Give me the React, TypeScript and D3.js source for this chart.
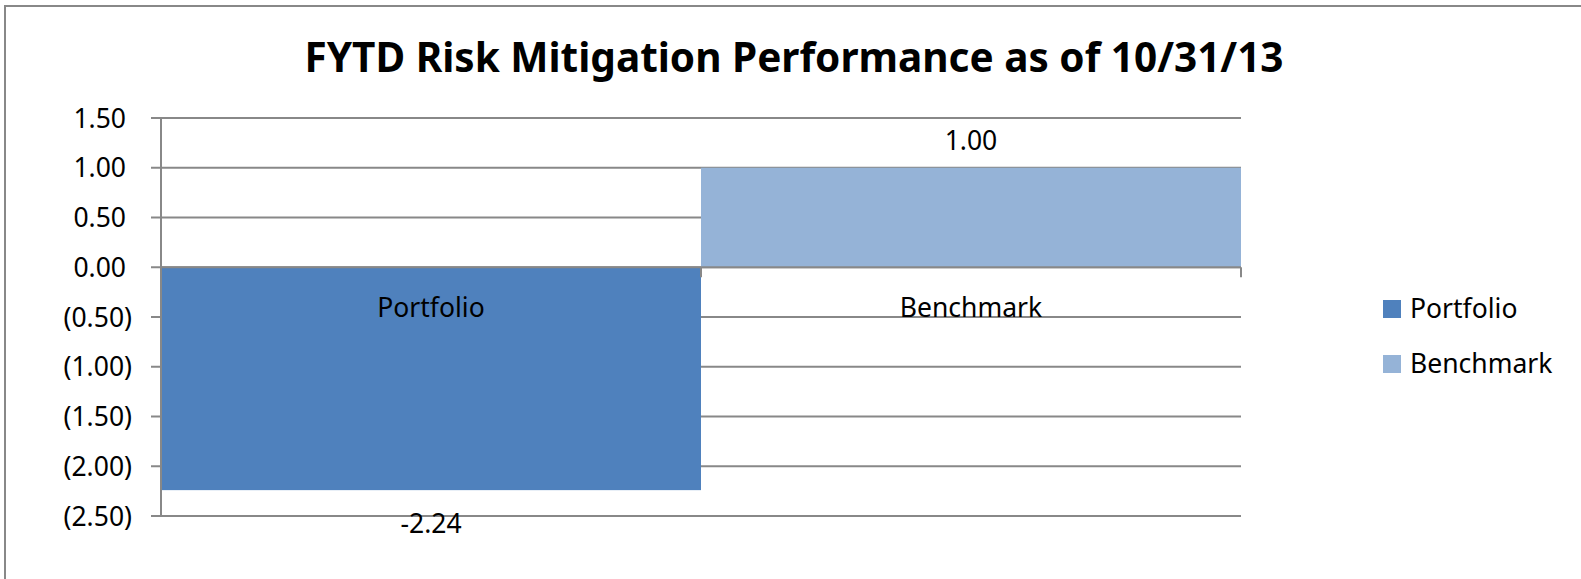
import React, { useRef, useEffect } from 'react';
import * as d3 from 'd3';

const title = 'FYTD Risk Mitigation Performance as of 10/31/13';
const categories = ['Portfolio', 'Benchmark'];
const values = [-2.24, 1.0];
const colors = ['#4F81BD', '#95B3D7'];
const yTicks = [1.5, 1.0, 0.5, 0, -0.5, -1.0, -1.5, -2.0, -2.5];

const FONT = '"Noto Sans", "Open Sans", sans-serif';

const fmt = (v: number) => {
  const s = Math.abs(v).toFixed(2);
  return v < 0 ? `(${s})` : s;
};

const App: React.FC = () => {
  const ref = useRef<SVGSVGElement>(null);
  const width = 1581;
  const height = 579;
  const plot = { left: 161, right: 1241, top: 118, bottom: 516 };

  useEffect(() => {
    if (!ref.current) return;
    const svg = d3.select(ref.current);
    svg.selectAll('*').remove();

    const x = d3.scaleBand<string>()
      .domain(categories)
      .range([plot.left, plot.right])
      .padding(0);

    const y = d3.scaleLinear()
      .domain([-2.5, 1.5])
      .range([plot.bottom, plot.top]);

    // chart frame
    svg.append('rect')
      .attr('x', 5).attr('y', 6)
      .attr('width', width + 50).attr('height', height + 50)
      .attr('fill', '#fff')
      .attr('stroke', '#888').attr('stroke-width', 2);

    svg.append('text')
      .attr('x', 794).attr('y', 72)
      .attr('text-anchor', 'middle')
      .attr('font-family', FONT)
      .attr('font-weight', 'bold')
      .attr('font-size', 41)
      .attr('textLength', 979)
      .attr('lengthAdjust', 'spacingAndGlyphs')
      .attr('fill', '#000')
      .text(title);

    // gridlines
    svg.append('g')
      .selectAll('line')
      .data(yTicks)
      .join('line')
      .attr('x1', plot.left - 10).attr('x2', plot.right)
      .attr('y1', d => y(d)).attr('y2', d => y(d))
      .attr('stroke', '#888').attr('stroke-width', 2);

    // bars
    svg.append('g')
      .selectAll('rect')
      .data(values)
      .join('rect')
      .attr('x', (_, i) => x(categories[i])!)
      .attr('width', x.bandwidth())
      .attr('y', d => y(Math.max(0, d)))
      .attr('height', d => Math.abs(y(d) - y(0)))
      .attr('fill', (_, i) => colors[i]);

    // value axis
    svg.append('line')
      .attr('x1', plot.left).attr('x2', plot.left)
      .attr('y1', plot.top).attr('y2', plot.bottom)
      .attr('stroke', '#888').attr('stroke-width', 2);

    // category axis at zero
    svg.append('line')
      .attr('x1', plot.left).attr('x2', plot.right)
      .attr('y1', y(0)).attr('y2', y(0))
      .attr('stroke', '#888').attr('stroke-width', 2);

    svg.append('g')
      .selectAll('line')
      .data(categories)
      .join('line')
      .attr('x1', d => x(d)! + x.bandwidth()).attr('x2', d => x(d)! + x.bandwidth())
      .attr('y1', y(0)).attr('y2', y(0) + 10)
      .attr('stroke', '#888').attr('stroke-width', 2);

    // y tick labels
    svg.append('g')
      .selectAll('text')
      .data(yTicks)
      .join('text')
      .attr('x', d => (d < 0 ? 132 : 126))
      .attr('y', d => y(d))
      .attr('dy', '0.36em')
      .attr('text-anchor', 'end')
      .attr('font-family', FONT)
      .attr('font-size', 26.5)
      .attr('fill', '#000')
      .text(d => fmt(d));

    // category labels
    svg.append('g')
      .selectAll('text')
      .data(categories)
      .join('text')
      .attr('x', d => x(d)! + x.bandwidth() / 2)
      .attr('y', y(0) + 50)
      .attr('text-anchor', 'middle')
      .attr('font-family', FONT)
      .attr('font-size', 26.5)
      .attr('fill', '#000')
      .text(d => d);

    // data labels
    svg.append('g')
      .selectAll('text')
      .data(values)
      .join('text')
      .attr('x', (_, i) => x(categories[i])! + x.bandwidth() / 2)
      .attr('y', d => (d >= 0 ? y(d) - 18 : y(d) + 43))
      .attr('text-anchor', 'middle')
      .attr('font-family', FONT)
      .attr('font-size', 26.5)
      .attr('fill', '#000')
      .text(d => d.toFixed(2));

    // legend
    const legend = svg.append('g').attr('transform', 'translate(1383,300)');
    const item = legend.selectAll('g')
      .data(categories)
      .join('g')
      .attr('transform', (_, i) => `translate(0,${i * 55})`);
    item.append('rect')
      .attr('width', 18).attr('height', 18)
      .attr('fill', (_, i) => colors[i]);
    item.append('text')
      .attr('x', 27).attr('y', 18)
      .attr('font-family', FONT)
      .attr('font-size', 26.5)
      .attr('fill', '#000')
      .text(d => d);
  }, []);

  return (
    <svg
      ref={ref}
      width={width}
      height={height}
      viewBox={`0 0 ${width} ${height}`}
      style={{ position: 'absolute', left: 0, top: 0, display: 'block' }}
    ></svg>
  );
};

export default App;
